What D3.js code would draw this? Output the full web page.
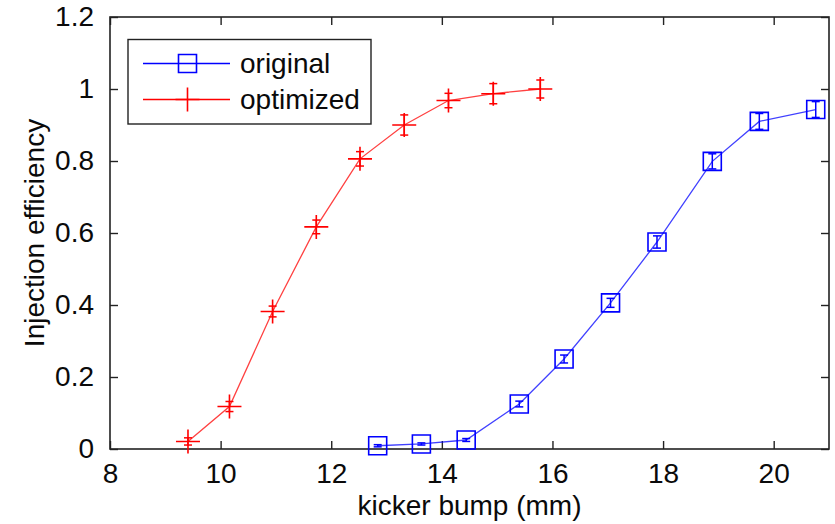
<!DOCTYPE html>
<html>
<head>
<meta charset="utf-8">
<script src="https://cdn.jsdelivr.net/npm/d3@7/dist/d3.min.js"></script>
<style>
  html, body { margin: 0; padding: 0; background: #fff; }
  svg { display: block; }
  text { font-family: "Liberation Sans", Arial, Helvetica, sans-serif; fill: #0a0a0a; }
</style>
</head>
<body>
<svg id="chart" width="835" height="524"></svg>
<script>
// Injection efficiency vs kicker bump amplitude
const origX   = [12.84, 13.63, 14.44, 15.40, 16.21, 17.05, 17.89, 18.89, 19.74, 20.76];
const origY   = [0.009, 0.014, 0.025, 0.125, 0.250, 0.406, 0.575, 0.799, 0.910, 0.943];
const origErr = [0.003, 0.003, 0.004, 0.008, 0.011, 0.0125, 0.017, 0.021, 0.022, 0.022];

const optX    = [9.41, 10.16, 10.94, 11.73, 12.52, 13.32, 14.12, 14.93, 15.78];
const optY    = [0.021, 0.118, 0.382, 0.617, 0.806, 0.900, 0.968, 0.987, 1.000];
const optErr  = [0.010, 0.014, 0.015, 0.019, 0.020, 0.028, 0.020, 0.028, 0.025];

const xTicks = [8, 10, 12, 14, 16, 18, 20];
const yTicks = [0, 0.2, 0.4, 0.6, 0.8, 1, 1.2];
const seriesNames = ["original", "optimized"];
const xLabel = "kicker bump (mm)";
const yLabel = "Injection efficiency";

const svg = d3.select("#chart");
const L = 110, R = 829, T = 17, B = 449;

const x = d3.scaleLinear().domain([8, 21]).range([L, R]);
const y = d3.scaleLinear().domain([0, 1.2]).range([B, T]);

const fontSize = 28;
const tickLen = 8;
const axisColor = "#222";

// axes with inward ticks on all four sides
const gx = svg.append("g").attr("transform", `translate(0,${B})`)
  .call(d3.axisBottom(x).tickValues(xTicks).tickSize(-tickLen).tickPadding(tickLen + 14).tickFormat(d3.format("d")));
const gxTop = svg.append("g").attr("transform", `translate(0,${T})`)
  .call(d3.axisTop(x).tickValues(xTicks).tickSize(-tickLen).tickFormat(""));
const gy = svg.append("g").attr("transform", `translate(${L},0)`)
  .call(d3.axisLeft(y).tickValues(yTicks).tickSize(-tickLen).tickPadding(tickLen + 8).tickFormat(d => d3.format("~g")(d)));
const gyRight = svg.append("g").attr("transform", `translate(${R},0)`)
  .call(d3.axisRight(y).tickValues(yTicks).tickSize(-tickLen).tickFormat(""));

[gx, gxTop, gy, gyRight].forEach(g => {
  g.select(".domain").remove();
  g.selectAll(".tick line").attr("stroke", axisColor).attr("stroke-width", 1.4);
  g.selectAll(".tick text").attr("font-size", fontSize).attr("fill", "#0a0a0a")
    .style("font-family", '"Liberation Sans", Arial, sans-serif');
});
gx.selectAll(".tick text").attr("dy", "0.71em").attr("y", 14);

svg.append("rect")
  .attr("x", L).attr("y", T).attr("width", R - L).attr("height", B - T)
  .attr("fill", "none").attr("stroke", axisColor).attr("stroke-width", 1.6);

// axis titles
svg.append("text")
  .attr("x", (L + R) / 2).attr("y", 515)
  .attr("text-anchor", "middle").attr("font-size", fontSize)
  .text(xLabel);
svg.append("text")
  .attr("transform", `translate(44,${(T + B) / 2}) rotate(-90)`)
  .attr("text-anchor", "middle").attr("font-size", fontSize)
  .text(yLabel);

const line = d3.line().x(d => x(d[0])).y(d => y(d[1]));
const capHalf = 4;

function drawSeries(xs, ys, errs, color, marker) {
  const pts = xs.map((v, i) => [v, ys[i], errs[i]]);
  const g = svg.append("g");
  g.append("path").datum(pts)
    .attr("d", line).attr("fill", "none")
    .attr("stroke", color).attr("stroke-width", 1.3).attr("stroke-opacity", 0.75);

  // error bars
  const eb = g.selectAll(".eb").data(pts).enter().append("g").attr("class", "eb");
  eb.append("line")
    .attr("x1", d => x(d[0])).attr("x2", d => x(d[0]))
    .attr("y1", d => y(d[1] - d[2])).attr("y2", d => y(d[1] + d[2]))
    .attr("stroke", color).attr("stroke-width", 1.5);
  [-1, 1].forEach(s => {
    eb.append("line")
      .attr("x1", d => x(d[0]) - capHalf).attr("x2", d => x(d[0]) + capHalf)
      .attr("y1", d => y(d[1] + s * d[2])).attr("y2", d => y(d[1] + s * d[2]))
      .attr("stroke", color).attr("stroke-width", 1.5);
  });

  // markers
  g.selectAll(".mk").data(pts).enter().append("path").attr("class", "mk")
    .attr("transform", d => `translate(${x(d[0])},${y(d[1])})`)
    .attr("d", marker)
    .attr("fill", "none").attr("stroke", color).attr("stroke-width", 1.6);
}

const squareMarker = "M-9,-9H9V9H-9Z";
const plusMarker = "M-12,0H12M0,-12V12";

drawSeries(origX, origY, origErr, "#0000ff", squareMarker);
drawSeries(optX, optY, optErr, "#ff0000", plusMarker);

// legend
const lg = svg.append("g");
lg.append("rect")
  .attr("x", 128).attr("y", 39.5).attr("width", 243).attr("height", 84.5)
  .attr("fill", "#fff").attr("stroke", axisColor).attr("stroke-width", 1.4);
const legendItems = [
  { name: seriesNames[0], color: "#0000ff", marker: squareMarker, ly: 63.5 },
  { name: seriesNames[1], color: "#ff0000", marker: plusMarker, ly: 99.5 }
];
legendItems.forEach(it => {
  lg.append("line").attr("x1", 143).attr("x2", 230).attr("y1", it.ly).attr("y2", it.ly)
    .attr("stroke", it.color).attr("stroke-width", 1.4);
  lg.append("path").attr("transform", `translate(187.5,${it.ly})`).attr("d", it.marker)
    .attr("fill", "none").attr("stroke", it.color).attr("stroke-width", 1.6);
  lg.append("text").attr("x", 240).attr("y", it.ly + 9.5)
    .attr("font-size", fontSize).text(it.name);
});
</script>
</body>
</html>
